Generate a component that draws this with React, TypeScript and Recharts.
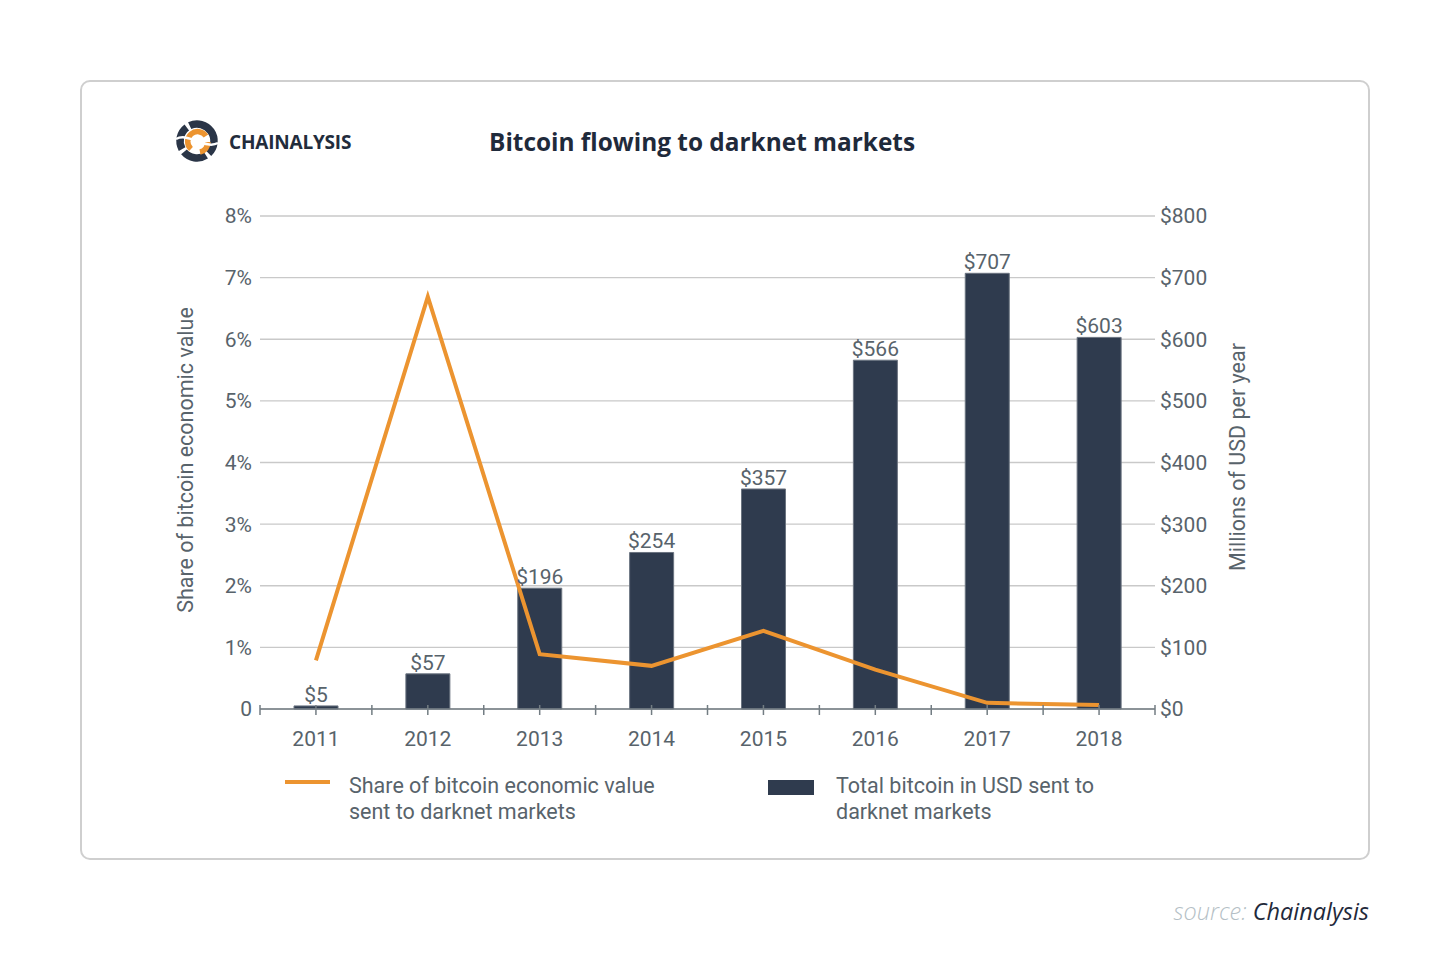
import React from "react";
import { ComposedChart, Bar, Line, XAxis, YAxis, CartesianGrid, LabelList } from "recharts";

const years = ["2011", "2012", "2013", "2014", "2015", "2016", "2017", "2018"];
const usdMillions = [5, 57, 196, 254, 357, 566, 707, 603];
const sharePct = [0.79, 6.69, 0.89, 0.7, 1.27, 0.64, 0.1, 0.065];
const leftTicks = [0, 1, 2, 3, 4, 5, 6, 7, 8];
const rightTicks = [0, 100, 200, 300, 400, 500, 600, 700, 800];

const chartData = years.map((y, i) => ({ year: y, usd: usdMillions[i], share: sharePct[i] }));

const ORANGE = "#ec9430";
const NAVY = "#2f3b4e";
const TEXT = "#58636b";
const AXIS = "#737d83";

const PLOT_LEFT = 260;
const PLOT_RIGHT = 1155;
const PLOT_TOP = 216;
const PLOT_BOTTOM = 709;
const BAND = (PLOT_RIGHT - PLOT_LEFT) / years.length;

function YearTick({ x, y, payload, index }: any) {
  const left = x - BAND / 2;
  return (
    <g>
      <line x1={x} x2={x} y1={y - 4} y2={y + 6} stroke={AXIS} strokeWidth={1.5} />
      <line x1={left} x2={left} y1={y - 4} y2={y + 6} stroke={AXIS} strokeWidth={1.5} />
      {index === years.length - 1 && (
        <line x1={x + BAND / 2} x2={x + BAND / 2} y1={y - 4} y2={y + 6} stroke={AXIS} strokeWidth={1.5} />
      )}
      <text x={x} y={y + 37} textAnchor="middle" fill={TEXT} fontSize={21} fontFamily="Roboto">
        {payload.value}
      </text>
    </g>
  );
}

// rough drawing of the Chainalysis mark
function Logo() {
  return (
    <svg width={46} height={46} viewBox="-23 -23 46 46" style={{ position: "absolute", left: 174, top: 118 }}>
      <circle r={17} fill="none" stroke="#2a3547" strokeWidth={7.5} strokeDasharray="24 3.5" transform="rotate(-35)" />
      <path d="M 9 -5 A 10 10 0 1 0 -6 8" fill="none" stroke={ORANGE} strokeWidth={5.5} />
      <path d="M 3 11 A 10 10 0 0 0 11 1" fill="none" stroke={ORANGE} strokeWidth={5.5} />
      <path d="M -21 -2 C -8 -9, 8 9, 21 2" fill="none" stroke="#fff" strokeWidth={2.5} />
    </svg>
  );
}

export default function App() {
  return (
    <div style={{ position: "absolute", left: 0, top: 0, width: 1450, height: 980, background: "#fff", fontFamily: "Roboto" }}>
      <div
        style={{
          position: "absolute",
          left: 80,
          top: 80,
          width: 1286,
          height: 776,
          border: "2.5px solid #cfcfcf",
          borderRadius: 10,
        }}
      />
      <Logo />
      <div style={{ position: "absolute", left: 229, top: 129, fontFamily: "Open Sans", fontWeight: 700, fontSize: 19, color: "#222c3c", letterSpacing: -0.2 }}>
        CHAINALYSIS
      </div>
      <div style={{ position: "absolute", left: 489, top: 125, fontFamily: "Open Sans", fontWeight: 700, fontSize: 24.4, color: "#1f2a3b" }}>
        Bitcoin flowing to darknet markets
      </div>

      <div style={{ position: "absolute", left: 0, top: 0 }}>
        <ComposedChart
          width={1450}
          height={980}
          data={chartData}
          margin={{ top: PLOT_TOP, bottom: 980 - PLOT_BOTTOM - 40, left: PLOT_LEFT - 60, right: 1450 - PLOT_RIGHT - 60 }}
        >
          <CartesianGrid vertical={false} stroke="#c9c9c9" strokeWidth={1.3} yAxisId="pct" />
          <XAxis
            dataKey="year"
            height={40}
            axisLine={{ stroke: AXIS, strokeWidth: 1.5 }}
            tickLine={false}
            tickSize={0}
            tickMargin={0}
            tick={<YearTick />}
            interval={0}
          />
          <YAxis
            yAxisId="pct"
            width={60}
            domain={[0, 8]}
            ticks={leftTicks}
            axisLine={false}
            tickLine={false}
            tickSize={0}
            tickMargin={8}
            tickFormatter={(v: number) => (v === 0 ? "0" : `${v}%`)}
            tick={{ fill: TEXT, fontSize: 21, fontFamily: "Roboto" }}
          />
          <YAxis
            yAxisId="usd"
            orientation="right"
            width={60}
            domain={[0, 800]}
            ticks={rightTicks}
            axisLine={false}
            tickLine={false}
            tickSize={0}
            tickMargin={5}
            tickFormatter={(v: number) => `$${v}`}
            tick={{ fill: TEXT, fontSize: 21, fontFamily: "Roboto" }}
          />
          <Bar yAxisId="usd" dataKey="usd" fill={NAVY} stroke="#6b7480" strokeWidth={1} barSize={44} isAnimationActive={false}>
            <LabelList
              dataKey="usd"
              position="top"
              offset={4}
              formatter={(v: number) => `$${v}`}
              fill={TEXT}
              fontSize={21}
              fontFamily="Roboto"
            />
          </Bar>
          <Line
            yAxisId="pct"
            dataKey="share"
            stroke={ORANGE}
            strokeWidth={4}
            dot={false}
            activeDot={false}
            type="linear"
            isAnimationActive={false}
          />
        </ComposedChart>
      </div>

      <div
        style={{
          position: "absolute",
          left: 185,
          top: 460,
          transform: "translate(-50%, -50%) rotate(-90deg)",
          whiteSpace: "nowrap",
          color: TEXT,
          fontSize: 21.5,
        }}
      >
        Share of bitcoin economic value
      </div>
      <div
        style={{
          position: "absolute",
          left: 1237,
          top: 457,
          transform: "translate(-50%, -50%) rotate(-90deg)",
          whiteSpace: "nowrap",
          color: TEXT,
          fontSize: 21.5,
        }}
      >
        Millions of USD per year
      </div>

      <div style={{ position: "absolute", left: 285, top: 780, width: 45, height: 4, background: ORANGE }} />
      <div style={{ position: "absolute", left: 349, top: 773, color: TEXT, fontSize: 21.5, lineHeight: "26px" }}>
        Share of bitcoin economic value
        <br />
        sent to darknet markets
      </div>
      <div style={{ position: "absolute", left: 768, top: 780, width: 46, height: 15, background: NAVY }} />
      <div style={{ position: "absolute", left: 836, top: 773, color: TEXT, fontSize: 21.5, lineHeight: "26px" }}>
        Total bitcoin in USD sent to
        <br />
        darknet markets
      </div>

      <div
        style={{
          position: "absolute",
          right: 1450 - 1369,
          top: 895,
          fontFamily: "Open Sans",
          fontStyle: "italic",
          fontSize: 23.5,
          whiteSpace: "nowrap",
        }}
      >
        <span style={{ color: "#b5bfc6", fontWeight: 300 }}>source: </span>
        <span style={{ color: "#1f2a3b" }}>Chainalysis</span>
      </div>
    </div>
  );
}
